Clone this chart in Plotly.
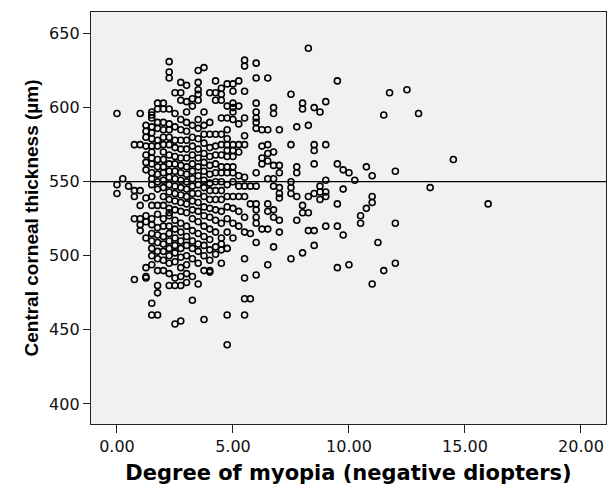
import plotly.graph_objects as go

# ---- data: central corneal thickness (um) read per myopia level (negative diopters) ----
myopia_levels = [0.0, 0.25, 0.5, 0.75, 1.0, 1.25, 1.5, 1.75, 2.0, 2.25, 2.5, 2.75, 3.0,
                 3.25, 3.5, 3.75, 4.0, 4.25, 4.5, 4.75, 5.0, 5.25, 5.5, 5.75, 6.0, 6.25,
                 6.5, 6.75, 7.0, 7.5, 7.75, 8.0, 8.25, 8.5, 8.75, 9.0, 9.5, 9.75, 10.0,
                 10.25, 10.5, 10.75, 11.0, 11.25, 11.5, 11.75, 12.0, 12.5, 13.0, 13.5,
                 14.5, 16.0]

cct_0_00 = [596, 548, 542]
cct_0_25 = [552]
cct_0_50 = [547]
cct_0_75 = [575, 544, 540, 525, 484]
cct_1_00 = [596, 575, 544, 534, 525, 521, 517]
cct_1_25 = [588, 584, 580, 574, 568, 563, 558, 539, 527, 523, 512, 492, 486, 485]
cct_1_50 = [597, 595, 593, 587, 583, 579, 574, 570, 566, 562, 556, 552, 548, 540, 534,
            525, 521, 515, 510, 505, 500, 494, 468, 460]
cct_1_75 = [603, 599, 590, 586, 578, 574, 565, 560, 555, 550, 545, 534, 528, 519, 514,
            509, 503, 498, 490, 480, 475, 460]
cct_2_00 = [603, 599, 590, 585, 580, 575, 570, 565, 560, 556, 551, 546, 540, 534, 525,
            520, 513, 508, 503, 497, 490]
cct_2_25 = [631, 624, 620, 599, 589, 585, 580, 575, 568, 562, 557, 553, 548, 543, 538,
            532, 529, 527, 520, 515, 510, 505, 500, 495, 488, 480]
cct_2_50 = [610, 596, 587, 578, 573, 567, 562, 557, 552, 547, 542, 537, 531, 524, 518,
            512, 507, 502, 496, 485, 480, 454]
cct_2_75 = [617, 610, 605, 592, 585, 578, 572, 566, 561, 556, 551, 546, 541, 536, 530,
            522, 516, 510, 505, 499, 492, 486, 480, 456]
cct_3_00 = [615, 604, 597, 590, 584, 578, 572, 566, 560, 555, 550, 545, 540, 535, 529,
            520, 513, 507, 500, 494, 488, 482]
cct_3_25 = [606, 601, 588, 580, 574, 568, 562, 557, 552, 547, 542, 537, 531, 525, 517,
            510, 505, 498, 486, 470]
cct_3_50 = [625, 617, 612, 609, 605, 592, 586, 579, 572, 566, 560, 554, 548, 542, 536,
            530, 523, 515, 508, 503, 495, 481]
cct_3_75 = [627, 597, 588, 582, 576, 569, 563, 557, 551, 546, 540, 533, 527, 520, 513,
            507, 500, 490, 457]
cct_4_00 = [610, 590, 582, 573, 567, 561, 555, 549, 544, 538, 532, 526, 518, 511, 504,
            497, 490, 489]
cct_4_25 = [618, 610, 605, 582, 574, 568, 562, 556, 550, 544, 538, 531, 524, 516, 506, 501]
cct_4_50 = [613, 609, 605, 593, 582, 575, 568, 560, 556, 550, 544, 538, 530, 522, 512,
            508, 504, 495]
cct_4_75 = [616, 601, 593, 585, 579, 575, 571, 567, 560, 556, 548, 540, 533, 525, 516,
            505, 460, 440]
cct_5_00 = [616, 611, 603, 600, 597, 592, 575, 571, 567, 560, 556, 550, 540, 532, 522, 512]
cct_5_25 = [618, 601, 589, 575, 570, 554, 547, 540, 530, 520]
cct_5_50 = [632, 628, 611, 593, 581, 575, 553, 547, 540, 526, 516, 498, 485, 471, 460]
cct_5_75 = [547, 535, 515, 471]
cct_6_00 = [630, 620, 603, 597, 593, 590, 586, 556, 547, 535, 531, 526, 522, 509, 487]
cct_6_25 = [585, 574, 566, 562, 518]
cct_6_50 = [620, 585, 575, 569, 564, 552, 535, 530, 518, 494]
cct_6_75 = [600, 596, 570, 561, 552, 547, 531, 526, 506]
cct_7_00 = [585, 561, 556, 546, 542, 539, 524, 516]
cct_7_50 = [609, 575, 550, 546, 542, 498]
cct_7_75 = [587, 560, 556, 540, 524]
cct_8_00 = [603, 599, 534, 529, 502]
cct_8_25 = [640, 588, 540, 529, 517]
cct_8_50 = [600, 575, 571, 562, 542, 517, 507]
cct_8_75 = [597, 547, 543, 538]
cct_9_00 = [604, 575, 551, 543, 540, 520]
cct_9_50 = [618, 562, 535, 520, 492]
cct_9_75 = [558, 545, 514]
cct_10_00 = [556, 494]
cct_10_25 = [551]
cct_10_50 = [527, 522]
cct_10_75 = [560, 532]
cct_11_00 = [554, 540, 536, 481]
cct_11_25 = [509]
cct_11_50 = [595, 490]
cct_11_75 = [610]
cct_12_00 = [557, 522, 495]
cct_12_50 = [612]
cct_13_00 = [596]
cct_13_50 = [546]
cct_14_50 = [565]
cct_16_00 = [535]

cct_columns = [cct_0_00, cct_0_25, cct_0_50, cct_0_75, cct_1_00, cct_1_25, cct_1_50,
               cct_1_75, cct_2_00, cct_2_25, cct_2_50, cct_2_75, cct_3_00, cct_3_25,
               cct_3_50, cct_3_75, cct_4_00, cct_4_25, cct_4_50, cct_4_75, cct_5_00,
               cct_5_25, cct_5_50, cct_5_75, cct_6_00, cct_6_25, cct_6_50, cct_6_75,
               cct_7_00, cct_7_50, cct_7_75, cct_8_00, cct_8_25, cct_8_50, cct_8_75,
               cct_9_00, cct_9_50, cct_9_75, cct_10_00, cct_10_25, cct_10_50, cct_10_75,
               cct_11_00, cct_11_25, cct_11_50, cct_11_75, cct_12_00, cct_12_50,
               cct_13_00, cct_13_50, cct_14_50, cct_16_00]

reference_cct = 550
x_ticks = [0, 5, 10, 15, 20]
y_ticks = [400, 450, 500, 550, 600, 650]
x_title = "Degree of myopia (negative diopters)"
y_title = "Central corneal thickness (\u00b5m)"

# ---- build points ----
xs, ys = [], []
for lvl, col in zip(myopia_levels, cct_columns):
    for v in col:
        xs.append(lvl)
        ys.append(v)

TICK_FONT = "DejaVu Sans, sans-serif"
XT_FONT = "DejaVu Sans, sans-serif"
YT_FONT = "Liberation Sans, Arial, sans-serif"

fig = go.Figure()
fig.add_trace(go.Scatter(
    x=xs, y=ys, mode="markers",
    marker=dict(symbol="circle-open", size=6, color="black",
                line=dict(width=1.6, color="black")),
    hoverinfo="skip", showlegend=False,
))

fig.add_hline(y=reference_cct, line=dict(color="black", width=1.2))

fig.update_layout(
    width=616, height=485,
    margin=dict(l=91, r=10, t=12, b=61),
    paper_bgcolor="white",
    plot_bgcolor="#F0F1F0",
    font=dict(family=TICK_FONT, color="#111111", size=16),
    showlegend=False,
)
fig.update_xaxes(
    range=[-1.12, 21.08], tickvals=x_ticks, ticktext=[f"{t:.2f}" for t in x_ticks],
    ticks="outside", ticklen=8, tickwidth=1.2, tickcolor="#222222",
    showline=True, mirror=True, linecolor="#222222", linewidth=1.4,
    showgrid=False, zeroline=False, automargin=False,
    tickfont=dict(size=16, family=TICK_FONT, color="#111111"),
    title=dict(text=x_title, font=dict(size=21, family=XT_FONT, color="black", weight="bold"),
               standoff=10),
)
fig.update_yaxes(
    range=[386.5, 664.5], tickvals=y_ticks,
    ticks="outside", ticklen=7, tickwidth=1.2, tickcolor="#222222",
    showline=True, mirror=True, linecolor="#222222", linewidth=1.4,
    showgrid=False, zeroline=False, automargin=False,
    tickfont=dict(size=16, family=TICK_FONT, color="#111111"),
    title=dict(text=y_title, font=dict(size=19, family=YT_FONT, color="black", weight="bold"),
               standoff=5),
)

fig.write_html("out.html", config={"displayModeBar": False},
               post_script="document.body.style.margin='0';")
